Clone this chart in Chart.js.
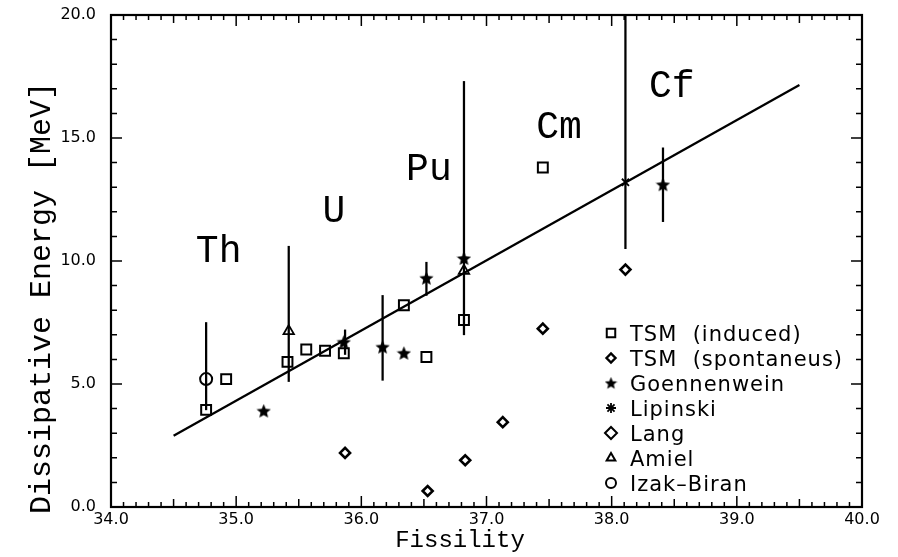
<!DOCTYPE html>
<html>
<head>
<meta charset="utf-8">
<script src="https://cdn.jsdelivr.net/npm/chart.js@4/dist/chart.umd.min.js"></script>
<style>
  html, body { margin: 0; padding: 0; background: #fff; }
  canvas { display: block; }
</style>
</head>
<body>
<canvas id="c" width="898" height="557"></canvas>
<script>
// Dissipative energy versus fissility for Th, U, Pu, Cm and Cf fission data.

// Axis tick labels
const xTickLabels = ['34.0', '35.0', '36.0', '37.0', '38.0', '39.0', '40.0'];
const yTickLabels = ['0.0', '5.0', '10.0', '15.0', '20.0'];

// TSM (induced)
const tsmInducedX = [34.76, 34.92, 35.41, 35.56, 35.71, 35.86, 36.34, 36.52, 36.82, 37.45];
const tsmInducedY = [3.95, 5.2, 5.9, 6.4, 6.35, 6.25, 8.2, 6.1, 7.6, 13.8];

// TSM (spontaneus)
const tsmSpontX = [35.87, 36.53, 36.83, 37.13, 37.45, 38.11];
const tsmSpontY = [2.2, 0.65, 1.9, 3.45, 7.25, 9.65];

// Goennenwein
const goennX = [35.22, 35.86, 36.17, 36.34, 36.52, 36.82, 38.41];
const goennY = [3.9, 6.7, 6.5, 6.25, 9.3, 10.1, 13.1];

// Lipinski
const lipinskiX = [38.11];
const lipinskiY = [13.2];

// Lang
const langX = [];
const langY = [];

// Amiel
const amielX = [35.42, 36.82];
const amielY = [7.15, 9.6];

// Izak-Biran
const izakX = [34.76];
const izakY = [5.2];

// Error bars (lower and upper ends)
const errX  = [34.76, 35.42, 35.87, 36.17, 36.52, 36.82, 38.11, 38.41];
const errLo = [3.95, 5.1, 6.2, 5.15, 8.6, 7.0, 10.5, 11.6];
const errHi = [7.5, 10.6, 7.2, 8.6, 9.95, 17.3, 20.0, 14.6];

// Linear systematics
const fitX = [34.5, 39.5];
const fitY = [2.9, 17.15];

// Element labels (data coordinates of the text baseline centre)
const elementNames = ['Th', 'U', 'Pu', 'Cm', 'Cf'];
const elementX = [34.86, 35.78, 36.54, 37.58, 38.48];
const elementY = [9.96, 11.59, 13.29, 15.0, 16.67];

// Legend entries
const legendNames = ['TSM  (induced)', 'TSM  (spontaneus)', 'Goennenwein', 'Lipinski', 'Lang', 'Amiel', 'Izak\u2013Biran'];

function pts(xs, ys) { return xs.map((x, i) => ({ x: x, y: ys[i] })); }

// Filled five-pointed star used as a point style
function makeStar(size) {
  const c = document.createElement('canvas');
  c.width = c.height = size;
  const g = c.getContext('2d');
  const cx = size / 2, cy = size / 2 + 0.5, R = size / 2, r = R * 0.45;
  g.beginPath();
  for (let k = 0; k < 10; k++) {
    const a = -Math.PI / 2 + k * Math.PI / 5;
    const rr = k % 2 ? r : R;
    g.lineTo(cx + rr * Math.cos(a), cy + rr * Math.sin(a));
  }
  g.closePath();
  g.fillStyle = '#000';
  g.fill();
  return c;
}
const starImg = makeStar(15);
const starImgLegend = makeStar(13);

const CLEAR = 'rgba(0,0,0,0)';

const markerStyles = [
  { pointStyle: 'rect',    radius: 7,   borderWidth: 2,   fill: CLEAR },
  { pointStyle: 'rectRot', radius: 5,   borderWidth: 2.6, fill: '#fff' },
  { pointStyle: starImg,   radius: 7,   borderWidth: 0,   fill: '#000' },
  { pointStyle: 'crossRot',radius: 5,   borderWidth: 1.8, fill: CLEAR },
  { pointStyle: 'rectRot', radius: 6,   borderWidth: 1.8, fill: CLEAR },
  { pointStyle: 'triangle',radius: 6,   borderWidth: 1.8, fill: CLEAR },
  { pointStyle: 'circle',  radius: 6,   borderWidth: 2,   fill: CLEAR }
];
const legendMarkerStyles = [
  { pointStyle: 'rect',    radius: 6,   borderWidth: 2,   fill: CLEAR },
  { pointStyle: 'rectRot', radius: 4.5, borderWidth: 2.4, fill: '#fff' },
  { pointStyle: starImgLegend, radius: 6, borderWidth: 0, fill: '#000' },
  { pointStyle: 'star',    radius: 5,   borderWidth: 1.8, fill: CLEAR },
  { pointStyle: 'rectRot', radius: 6,   borderWidth: 2,   fill: CLEAR },
  { pointStyle: 'triangle',radius: 5,   borderWidth: 2,   fill: CLEAR },
  { pointStyle: 'circle',  radius: 5,   borderWidth: 2,   fill: CLEAR }
];

function scatterSet(label, xs, ys, st) {
  return {
    type: 'scatter',
    label: label,
    data: pts(xs, ys),
    pointStyle: st.pointStyle,
    pointRadius: st.radius,
    pointBorderWidth: st.borderWidth,
    pointBorderColor: '#000',
    pointBackgroundColor: st.fill,
    order: 0
  };
}

// Frame with inward ticks, element labels, axis titles and legend
const decorPlugin = {
  id: 'decor',
  afterDatasetsDraw(chart) {
    const { ctx, chartArea: a, scales } = chart;
    const xs = scales.x, ys = scales.y;
    ctx.save();
    ctx.strokeStyle = '#000';
    ctx.fillStyle = '#000';

    // frame
    ctx.lineWidth = 2.2;
    ctx.strokeRect(a.left, a.top, a.right - a.left, a.bottom - a.top);

    // inward tick marks
    ctx.lineWidth = 1.5;
    ctx.beginPath();
    for (let k = 0; k <= 60; k++) {
      const px = xs.getPixelForValue(34 + k / 10);
      const len = k % 10 === 0 ? 11 : (k % 5 === 0 ? 8 : 5);
      ctx.moveTo(px, a.bottom); ctx.lineTo(px, a.bottom - len);
      ctx.moveTo(px, a.top);    ctx.lineTo(px, a.top + len);
    }
    for (let k = 0; k <= 20; k++) {
      const py = ys.getPixelForValue(k);
      const len = k % 5 === 0 ? 11 : 6;
      ctx.moveTo(a.left, py);  ctx.lineTo(a.left + len, py);
      ctx.moveTo(a.right, py); ctx.lineTo(a.right - len, py);
    }
    ctx.stroke();

    // element labels
    ctx.font = '38px "Liberation Mono"';
    ctx.textAlign = 'center';
    ctx.textBaseline = 'alphabetic';
    elementNames.forEach((n, i) => {
      ctx.fillText(n, xs.getPixelForValue(elementX[i]), ys.getPixelForValue(elementY[i]));
    });

    // axis titles
    ctx.font = '24px "Liberation Mono"';
    ctx.fillText('Fissility', 460, 547);
    ctx.save();
    ctx.translate(50, 298);
    ctx.rotate(-Math.PI / 2);
    ctx.font = '30px "Liberation Mono"';
    ctx.fillText('Dissipative Energy [MeV]', 0, 0);
    ctx.restore();

    // legend
    ctx.font = '21px "DejaVu Sans"';
    ctx.textAlign = 'left';
    if ('letterSpacing' in ctx) ctx.letterSpacing = '1px';
    legendNames.forEach((name, i) => {
      const cy = 333 + 25 * i;
      const st = legendMarkerStyles[i];
      ctx.save();
      ctx.lineWidth = st.borderWidth;
      ctx.strokeStyle = '#000';
      ctx.fillStyle = st.fill;
      Chart.helpers.drawPoint(ctx, {
        pointStyle: st.pointStyle, radius: st.radius, rotation: 0, borderWidth: st.borderWidth
      }, 611, cy);
      ctx.restore();
      ctx.fillStyle = '#000';
      ctx.fillText(name, 630, cy + 7.5);
    });
    ctx.restore();
  }
};

Chart.defaults.font.family = '"DejaVu Sans"';
Chart.defaults.color = '#000';

new Chart(document.getElementById('c'), {
  type: 'scatter',
  data: {
    datasets: [
      scatterSet(legendNames[0], tsmInducedX, tsmInducedY, markerStyles[0]),
      scatterSet(legendNames[1], tsmSpontX, tsmSpontY, markerStyles[1]),
      scatterSet(legendNames[2], goennX, goennY, markerStyles[2]),
      scatterSet(legendNames[3], lipinskiX, lipinskiY, markerStyles[3]),
      scatterSet(legendNames[4], langX, langY, markerStyles[4]),
      scatterSet(legendNames[5], amielX, amielY, markerStyles[5]),
      scatterSet(legendNames[6], izakX, izakY, markerStyles[6]),
      {
        type: 'line',
        label: 'systematics',
        data: pts(fitX, fitY),
        borderColor: '#000',
        borderWidth: 2.3,
        pointRadius: 0,
        showLine: true,
        fill: false,
        order: 1
      },
      {
        type: 'bar',
        label: 'errors',
        data: errX.map((x, i) => ({ x: x, y: [errLo[i], errHi[i]] })),
        backgroundColor: '#000',
        borderWidth: 0,
        barThickness: 1.6,
        grouped: false,
        order: 2
      }
    ]
  },
  options: {
    responsive: false,
    animation: false,
    devicePixelRatio: 1,
    layout: { padding: { left: 0, top: 15, right: 36, bottom: 0 } },
    plugins: { legend: { display: false }, tooltip: { enabled: false } },
    scales: {
      x: {
        type: 'linear',
        min: 34, max: 40,
        offset: false,
        grid: { display: false, drawTicks: false },
        border: { display: false },
        ticks: {
          stepSize: 1,
          autoSkip: false,
          maxRotation: 0,
          padding: 3,
          font: { size: 16 },
          callback: (v, i) => xTickLabels[i]
        },
        afterFit: (s) => { s.height = 50; s.paddingLeft = 0; s.paddingRight = 0; }
      },
      y: {
        type: 'linear',
        min: 0, max: 20,
        grid: { display: false, drawTicks: false },
        border: { display: false },
        ticks: {
          stepSize: 5,
          autoSkip: false,
          padding: 15,
          font: { size: 16 },
          callback: (v, i) => yTickLabels[i]
        },
        afterFit: (s) => { s.width = 111; s.paddingTop = 0; s.paddingBottom = 0; }
      }
    }
  },
  plugins: [decorPlugin]
});
</script>
</body>
</html>
